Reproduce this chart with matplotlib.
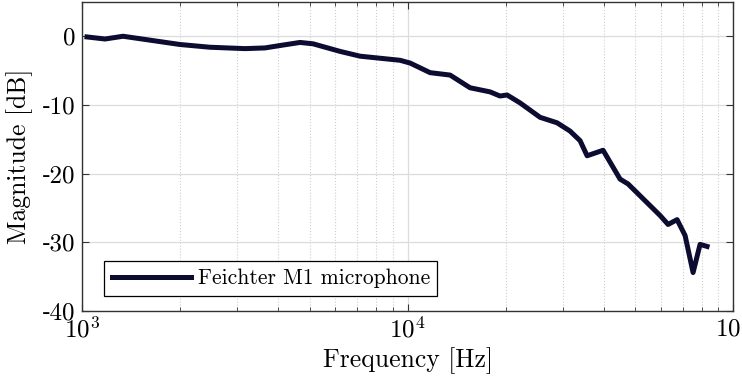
import numpy as np
import matplotlib
matplotlib.use("Agg")
import matplotlib.pyplot as plt
from matplotlib.ticker import LogLocator, NullFormatter

plt.rcParams["font.family"] = ["cmr10", "DejaVu Serif"]
plt.rcParams["mathtext.fontset"] = "cm"
plt.rcParams["axes.unicode_minus"] = False
plt.rcParams["axes.formatter.use_mathtext"] = True

# measured magnitude response of the microphone
freq = [1036, 1177, 1337, 2000, 2472, 3168, 3648, 4057, 4674, 5125,
        6202, 7145, 8231, 9484, 10180, 11730, 13510, 15560, 17930, 19230,
        20220, 22160, 25530, 28790, 31550, 33880, 35610, 39870, 44960, 47570,
        59680, 63140, 67290, 71200, 75350, 79170, 83180]
mag_db = [-0.1, -0.4, 0.0, -1.2, -1.6, -1.8, -1.7, -1.35, -0.9, -1.1,
          -2.2, -2.9, -3.2, -3.5, -3.9, -5.3, -5.65, -7.5, -8.1, -8.7,
          -8.55, -9.7, -11.8, -12.6, -13.8, -15.2, -17.4, -16.6, -20.8, -21.5,
          -26.1, -27.4, -26.7, -29.0, -34.4, -30.3, -30.6]

yticks = [-40, -30, -20, -10, 0]
# short hyphen (U+2010) instead of the wide dash cmr10 draws for "-"
ytick_labels = ["\u201040", "\u201030", "\u201020", "\u201010", "0"]

fig = plt.figure(figsize=(7.42, 3.83), dpi=100)
ax = fig.add_axes([0.1105, 0.188, 0.8775, 0.807])

ax.plot(freq, mag_db, color="#0c0b30", linewidth=3.6,
        label="Feichter M1 microphone")

ax.set_xscale("log")
ax.set_xlim(1e3, 1e5)
ax.set_ylim(-40, 5)
ax.set_yticks(yticks, labels=ytick_labels)
ax.xaxis.set_minor_locator(LogLocator(base=10, subs=np.arange(2, 10)))
ax.xaxis.set_minor_formatter(NullFormatter())

ax.grid(True, which="major", color="#dcdcdc", linewidth=0.9)
ax.grid(True, which="minor", axis="x", color="#cfcfcf", linewidth=0.8, linestyle=":")
ax.set_axisbelow(True)

ax.tick_params(which="both", direction="in", top=True, right=True,
               labelsize=18, color="#333333")
ax.tick_params(axis="y", which="major", length=5, pad=5)
ax.tick_params(axis="x", which="major", length=5, pad=4)
ax.tick_params(which="minor", length=3)
for s in ax.spines.values():
    s.set_color("#333333")
    s.set_linewidth(1.0)

ax.set_xlabel("Frequency [Hz]", fontsize=18.5, labelpad=3)
ax.set_ylabel("Magnitude [dB]", fontsize=18.5)
ax.yaxis.set_label_coords(-0.075, 0.5)

leg = ax.legend(loc="lower left", bbox_to_anchor=(0.0338, 0.0485),
                borderaxespad=0, fontsize=15.5, fancybox=False, framealpha=1,
                edgecolor="black", handlelength=3.7, handletextpad=0.3,
                borderpad=0.35)
leg.get_frame().set_linewidth(0.9)

fig.savefig("out.png", dpi=100)
